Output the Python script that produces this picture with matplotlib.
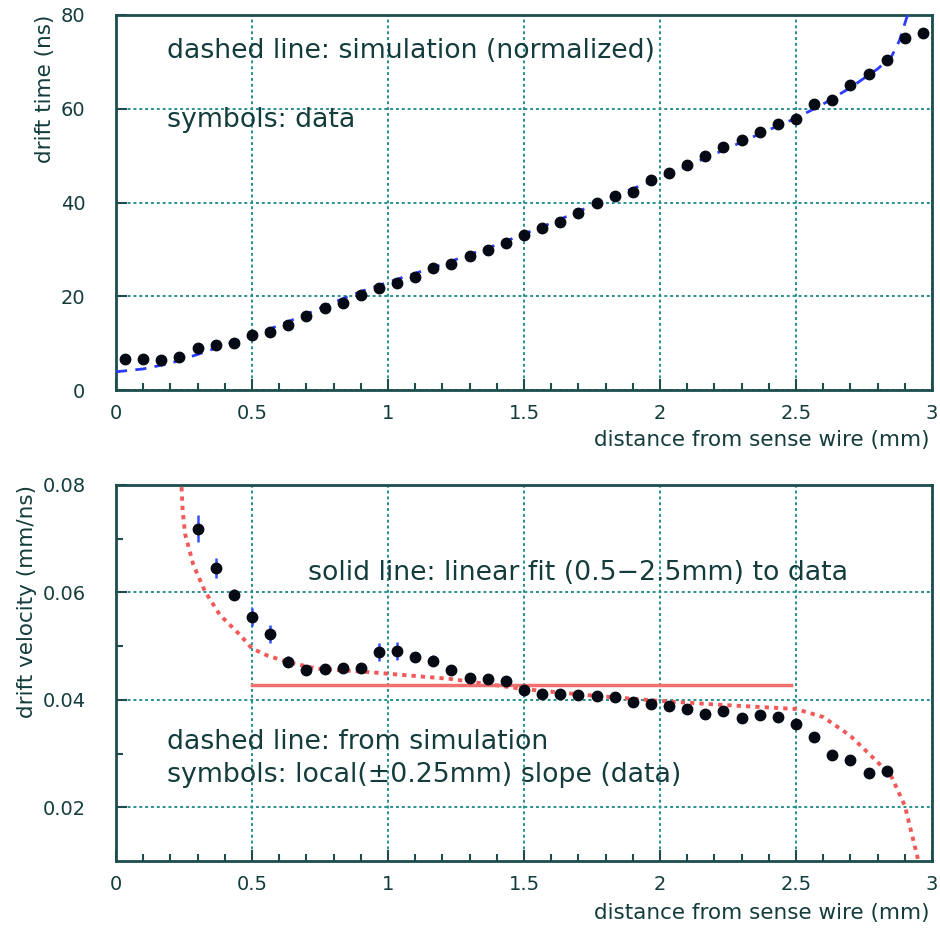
import matplotlib
matplotlib.use("Agg")
import matplotlib.pyplot as plt
from matplotlib.ticker import FixedLocator

# ---------------- data ----------------
time_x = [0.033, 0.100, 0.167, 0.233, 0.300, 0.367, 0.433, 0.500, 0.567, 0.633,
          0.700, 0.767, 0.833, 0.900, 0.967, 1.033, 1.100, 1.167, 1.233, 1.300,
          1.367, 1.433, 1.500, 1.567, 1.633, 1.700, 1.767, 1.833, 1.900, 1.967,
          2.033, 2.100, 2.167, 2.233, 2.300, 2.367, 2.433, 2.500, 2.567, 2.633,
          2.700, 2.767, 2.833, 2.900, 2.967]
time_y = [6.6, 6.6, 6.4, 7.0, 9.0, 9.6, 10.0, 11.7, 12.4, 13.9,
          15.8, 17.5, 18.5, 20.3, 21.7, 22.9, 24.1, 26.0, 26.9, 28.6,
          29.9, 31.3, 33.1, 34.5, 35.9, 37.7, 40.0, 41.3, 42.3, 44.7,
          46.2, 48.0, 49.9, 51.9, 53.3, 55.1, 56.7, 57.9, 61.1, 61.9,
          65.1, 67.5, 70.5, 75.0, 76.1]

sim_time_x = [0.0, 0.1, 0.2, 0.3, 0.4, 0.5, 0.6, 0.7, 0.8, 0.9, 1.0, 1.2, 1.4,
              1.6, 1.8, 2.0, 2.2, 2.4, 2.5, 2.6, 2.7, 2.8, 2.85, 2.88, 2.91]
sim_time_y = [3.9, 4.5, 5.7, 7.6, 9.6, 11.6, 13.8, 16.2, 18.7, 21.0, 23.0, 26.8, 31.0,
              35.6, 40.6, 45.3, 50.3, 55.5, 58.0, 61.0, 64.5, 68.5, 71.0, 74.5, 80.0]

vel_x = [0.300, 0.367, 0.433, 0.500, 0.567, 0.633, 0.700, 0.767, 0.833, 0.900,
         0.967, 1.033, 1.100, 1.167, 1.233, 1.300, 1.367, 1.433, 1.500, 1.567,
         1.633, 1.700, 1.767, 1.833, 1.900, 1.967, 2.033, 2.100, 2.167, 2.233,
         2.300, 2.367, 2.433, 2.500, 2.567, 2.633, 2.700, 2.767, 2.833]
vel_y = [0.0719, 0.0646, 0.0596, 0.0554, 0.0523, 0.0471, 0.0456, 0.0458, 0.0460, 0.0459,
         0.0489, 0.0491, 0.0480, 0.0473, 0.0456, 0.0441, 0.0438, 0.0435, 0.0418, 0.0411,
         0.0410, 0.0409, 0.0408, 0.0405, 0.0396, 0.0392, 0.0389, 0.0383, 0.0374, 0.0379,
         0.0367, 0.0372, 0.0369, 0.0355, 0.0330, 0.0297, 0.0288, 0.0263, 0.0267]
vel_err = [0.0025, 0.0019, 0.0010, 0.0017, 0.0017, 0.0010, 0.0008, 0.0008, 0.0008, 0.0008,
           0.0017, 0.0017, 0.0010, 0.0010, 0.0008, 0.0008, 0.0008, 0.0008, 0.0010, 0.0008,
           0.0008, 0.0008, 0.0008, 0.0008, 0.0008, 0.0008, 0.0008, 0.0008, 0.0008, 0.0008,
           0.0008, 0.0008, 0.0008, 0.0008, 0.0008, 0.0008, 0.0008, 0.0008, 0.0010]

sim_vel_x = [0.241, 0.245, 0.254, 0.284, 0.327, 0.382, 0.456, 0.499, 0.554, 0.627,
             0.738, 0.922, 1.228, 1.5, 1.75, 2.0, 2.25, 2.5, 2.6, 2.7, 2.8, 2.85, 2.9, 2.95]
sim_vel_y = [0.0796, 0.0752, 0.0709, 0.0652, 0.0602, 0.0558, 0.0521, 0.0496, 0.0483, 0.0471,
             0.0458, 0.0452, 0.0439, 0.0420, 0.0408, 0.0398, 0.0390, 0.0383, 0.0368, 0.0333,
             0.0284, 0.0258, 0.0203, 0.0100]

fit_x = [0.5, 2.48]
fit_v = 0.0427

x_ticks = [0, 0.5, 1, 1.5, 2, 2.5, 3]
x_ticklabels = ["0", "0.5", "1", "1.5", "2", "2.5", "3"]
t_ticks = [0, 20, 40, 60, 80]
v_ticks = [0.02, 0.04, 0.06, 0.08]
v_minor = [0.03, 0.05, 0.07]

# ---------------- style ----------------
TXT = "#143c3c"
FRAME = "#1d4d4d"
GRID = "#2a8f8f"
plt.rcParams['font.family'] = ['DejaVu Sans']
ANN = 19.3
LAB = 15.5

fig = plt.figure(figsize=(9.4, 9.3), dpi=100)
ax1 = fig.add_axes([0.1234, 0.5806, 0.8681, 0.4033])
ax2 = fig.add_axes([0.1234, 0.0742, 0.8681, 0.4043])

for ax in (ax1, ax2):
    for s in ax.spines.values():
        s.set_color(FRAME)
        s.set_linewidth(2.0)
    ax.set_xlim(0, 3)
    ax.set_xticks(x_ticks)
    ax.set_xticklabels(x_ticklabels)
    ax.xaxis.set_minor_locator(FixedLocator([i / 10 for i in range(1, 30) if i % 5]))
    ax.tick_params(axis='both', which='both', direction='in', colors=FRAME,
                   labelcolor=TXT, labelsize=14)
    ax.tick_params(axis='x', which='major', length=8, width=1.5, pad=10)
    ax.tick_params(axis='x', which='minor', length=5, width=1.5)
    ax.tick_params(axis='y', which='major', length=8, width=1.5, pad=22)
    ax.tick_params(axis='y', which='minor', length=5, width=1.5)
    ax.grid(True, which='major', color=GRID, linestyle=(0, (1.5, 1.5)), linewidth=1.4)
    ax.set_axisbelow(True)

# ---- top panel ----
ax1.set_ylim(0, 80)
ax1.set_yticks(t_ticks)
ax1.plot(sim_time_x, sim_time_y, color="#2a3cff", linestyle=(0, (4, 3)), linewidth=2.0, zorder=3)
ax1.plot(time_x, time_y, 'o', color="#050a14", markersize=7.5, zorder=4)
ax1.text(0.0625, 0.905, "dashed line: simulation (normalized)", transform=ax1.transAxes,
         fontsize=ANN, color=TXT, va='center', ha='left')
ax1.text(0.0625, 0.72, "symbols: data", transform=ax1.transAxes,
         fontsize=ANN, color=TXT, va='center', ha='left')
ax1.text(-0.087, 1.0, "drift time (ns)", transform=ax1.transAxes, rotation=90,
         fontsize=LAB, color=TXT, ha='center', va='top')
ax1.text(0.9975, -0.133, "distance from sense wire (mm)", transform=ax1.transAxes,
         fontsize=LAB, color=TXT, ha='right', va='center')

# ---- bottom panel ----
ax2.set_ylim(0.01, 0.08)
ax2.set_yticks(v_ticks)
ax2.set_yticklabels(["0.02", "0.04", "0.06", "0.08"])
ax2.yaxis.set_minor_locator(FixedLocator(v_minor))
ax2.plot(sim_vel_x, sim_vel_y, color="#f25a5a", linestyle=(0, (1.1, 1.3)), linewidth=2.8, zorder=3)
ax2.plot(fit_x, [fit_v, fit_v], color="#f07070", linestyle='-', linewidth=2.5, zorder=3)
ax2.errorbar(vel_x, vel_y, yerr=vel_err, fmt='o', color="#050a14", ecolor="#3050ff",
             elinewidth=1.8, markersize=7.5, capsize=0, zorder=4)
ax2.text(0.235, 0.766, "solid line: linear fit (0.5\u22122.5mm) to data", transform=ax2.transAxes,
         fontsize=ANN, color=TXT, va='center', ha='left')
ax2.text(0.0625, 0.316, "dashed line: from simulation", transform=ax2.transAxes,
         fontsize=ANN, color=TXT, va='center', ha='left')
ax2.text(0.0625, 0.229, "symbols: local(\u00b10.25mm) slope (data)", transform=ax2.transAxes,
         fontsize=ANN, color=TXT, va='center', ha='left')
ax2.text(-0.109, 1.0, "drift velocity (mm/ns)", transform=ax2.transAxes, rotation=90,
         fontsize=LAB, color=TXT, ha='center', va='top')
ax2.text(0.9975, -0.138, "distance from sense wire (mm)", transform=ax2.transAxes,
         fontsize=LAB, color=TXT, ha='right', va='center')

fig.savefig("out.png", dpi=100)
